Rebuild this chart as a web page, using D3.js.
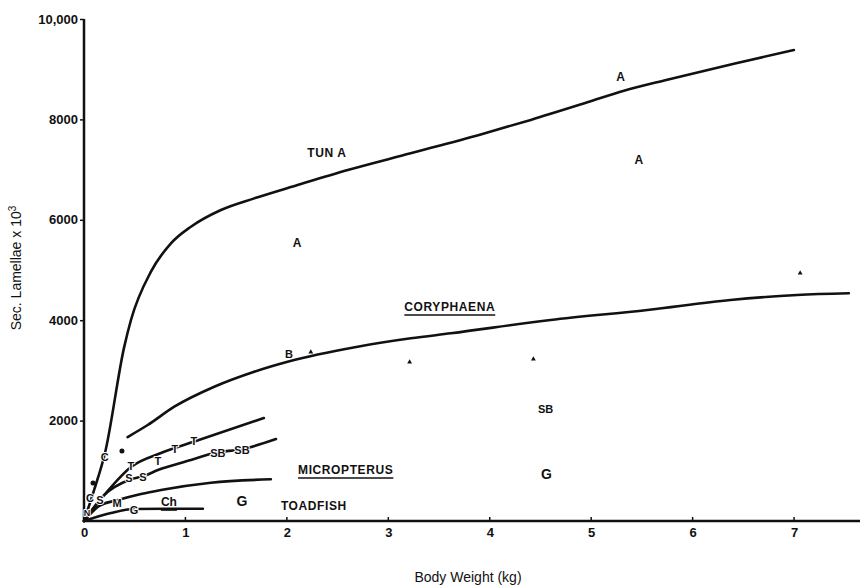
<!DOCTYPE html>
<html><head><meta charset="utf-8">
<script src="https://cdn.jsdelivr.net/npm/d3@7"></script>
<style>
html,body{margin:0;padding:0;background:#fff;}
svg{display:block;}
text{font-family:"Liberation Sans",Arial,sans-serif;fill:#111;}
</style></head>
<body>
<svg id="c" width="865" height="588"></svg>
<script>
// ---- data ----
const xTicks = [0,1,2,3,4,5,6,7];
const yTicks = [2000,4000,6000,8000,10000];
const yTickLabels = ["2000","4000","6000","8000","10,000"];

const tunaX = [0,0.10,0.207,0.397,0.463,0.66,0.857,1.054,1.35,1.678,2.105,2.6,3.22,3.911,4.404,4.963,5.323,5.75,6.407,6.998];
const tunaY = [0,620,1355,3473,4004,4966,5531,5862,6195,6427,6693,6992,7325,7700,7990,8340,8570,8790,9110,9382];

const coryX = [0.43,0.628,0.89,1.284,1.678,2.007,2.697,3.222,3.616,4.6,5.554,6.372,7.03,7.54];
const coryY = [1673,1912,2277,2675,2974,3173,3472,3639,3739,4004,4203,4402,4502,4536];
const coryDotsX = [0.089,0.374];
const coryDotsY = [757,1394];

const tCurveX = [0,0.217,0.463,0.759,1.103,1.773];
const tCurveY = [0,558,1076,1355,1594,2052];

const sbCurveX = [0,0.2,0.443,0.591,0.729,1.054,1.281,1.567,1.892];
const sbCurveY = [0,520,817,896,1016,1215,1355,1434,1633];

const microX = [0,0.15,0.335,0.562,0.759,1.251,1.842];
const microY = [0,300,418,538,618,763,831];

const toadX = [0,0.266,0.493,0.8,1.172];
const toadY = [0,159,239,244,245];

const smallTriX = [2.236,3.21,4.43,7.06];
const smallTriY = [3366,3167,3227,4940];

const labelText = ["TUN A","CORYPHAENA","MICROPTERUS","TOADFISH","A","A","A","B","SB","G","G","Ch",
  "C","T","T","T","T","S","S","SB","SB","C","S","M","G","N"];
const labelX = [2.394,3.606,2.58,2.266,2.10,5.29,5.47,2.02,4.55,4.56,1.557,0.837,
  0.205,0.463,0.729,0.897,1.084,0.443,0.581,1.32,1.557,0.059,0.158,0.325,0.493,0.03];
const labelY = [7331,4263,1016,299,5538,8845,7191,3327,2231,936,398,378,
  1275,1096,1195,1434,1594,857,876,1355,1414,458,418,359,219,150];
const labelKind = ["big","bigU","bigU","big","A","A","A","sm","mid","G","G","midU",
  "sm","sm","sm","sm","sm","sm","sm","sm","sm","sm","sm","sm","sm","xs"];

// ---- chart ----
const svg = d3.select("#c");
const x = d3.scaleLinear().domain([0,7.65]).range([84,860]);
const y = d3.scaleLinear().domain([0,10000]).range([521,19]);

// axes
const xAxis = d3.axisBottom(x).tickValues(xTicks).tickSize(0).tickPadding(5)
  .tickFormat(d3.format("d"));
const gx = svg.append("g").attr("transform",`translate(0,${y(0)})`).call(xAxis);
gx.select(".domain").remove();
gx.selectAll("text").attr("font-size",13).attr("font-weight","bold").attr("fill","#111").attr("dy","0.85em");
svg.append("line").attr("x1",x(0)).attr("x2",x(7.65)).attr("y1",y(0)).attr("y2",y(0))
  .attr("stroke","#111").attr("stroke-width",2.5);
svg.selectAll(".xt").data(xTicks.slice(1)).join("line").attr("class","xt")
  .attr("x1",d=>x(d)).attr("x2",d=>x(d)).attr("y1",y(0)).attr("y2",y(0)-4)
  .attr("stroke","#111").attr("stroke-width",1.5);

const yAxis = d3.axisLeft(y).tickValues(yTicks).tickSize(4).tickPadding(2)
  .tickFormat((d,i)=>yTickLabels[i]);
const gy = svg.append("g").attr("transform",`translate(${x(0)},0)`).call(yAxis);
gy.select(".domain").remove();
gy.selectAll("line").attr("stroke","#111").attr("stroke-width",1.5);
gy.selectAll("text").attr("font-size",13).attr("font-weight","bold").attr("fill","#111");
svg.append("line").attr("x1",x(0)).attr("x2",x(0)).attr("y1",y(0)).attr("y2",y(10000))
  .attr("stroke","#111").attr("stroke-width",2.5);

// axis titles
svg.append("text").attr("x",468).attr("y",582).attr("text-anchor","middle")
  .attr("font-size",14).text("Body Weight (kg)");
const yt = svg.append("text").attr("transform","translate(21,268) rotate(-90)")
  .attr("text-anchor","middle").attr("font-size",14);
yt.append("tspan").text("Sec. Lamellae x 10");
yt.append("tspan").attr("dy",-5).attr("font-size",10).text("3");

// curves
const line = d3.line().x(d=>x(d[0])).y(d=>y(d[1])).curve(d3.curveMonotoneX);
const curves = [[tunaX,tunaY],[coryX,coryY],[tCurveX,tCurveY],[sbCurveX,sbCurveY],[microX,microY],[toadX,toadY]];
svg.selectAll(".curve").data(curves).join("path").attr("class","curve")
  .attr("d",c=>line(d3.zip(c[0],c[1])))
  .attr("fill","none").attr("stroke","#111").attr("stroke-width",2.6).attr("stroke-linecap","round");

// dots
svg.selectAll(".dot").data(d3.zip(coryDotsX,coryDotsY)).join("circle").attr("class","dot")
  .attr("cx",d=>x(d[0])).attr("cy",d=>y(d[1])).attr("r",2.5).attr("fill","#111");

// small triangles
svg.selectAll(".tri").data(d3.zip(smallTriX,smallTriY)).join("path").attr("class","tri")
  .attr("d",d3.symbol().type(d3.symbolTriangle).size(10))
  .attr("transform",d=>`translate(${x(d[0])},${y(d[1])})`).attr("fill","#111");

// labels
const sizes = {big:12,bigU:12,A:12,sm:11,mid:11,midU:12,G:14,xs:9};
const labels = svg.selectAll(".lab").data(d3.range(labelText.length)).join("text").attr("class","lab")
  .attr("x",i=>x(labelX[i])).attr("y",i=>y(labelY[i]))
  .attr("text-anchor","middle").attr("dominant-baseline","central")
  .attr("font-weight","bold").attr("font-size",i=>sizes[labelKind[i]])
  .attr("letter-spacing",i=>labelKind[i].startsWith("big")?0.6:0)
  .attr("paint-order","stroke").attr("stroke",i=>labelKind[i]==="sm"||labelKind[i]==="xs"?"#ffffff":"none")
  .attr("stroke-width",2).attr("stroke-linejoin","round")
  .text(i=>labelText[i]);
// underlines
labels.filter(i=>labelKind[i].endsWith("U")).each(function(i){
  const b=this.getBBox();
  svg.append("line").attr("x1",b.x).attr("x2",b.x+b.width).attr("y1",b.y+b.height+1).attr("y2",b.y+b.height+1)
    .attr("stroke","#111").attr("stroke-width",1.6);
});
</script>
</body></html>
